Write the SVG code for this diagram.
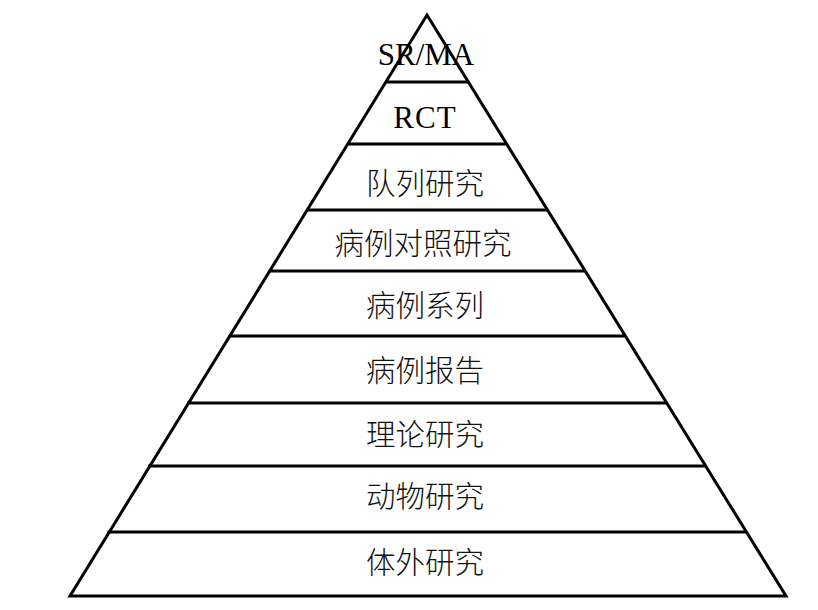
<svg xmlns="http://www.w3.org/2000/svg" width="818" height="610" viewBox="0 0 818 610">
<style>
.ln{stroke:#000;stroke-width:3;fill:none;stroke-linejoin:miter}
.en{font-family:"Liberation Serif","Times New Roman",serif;font-size:31px;fill:#000;text-anchor:middle}
.cn{font-family:"Liberation Serif","Noto Sans CJK SC",sans-serif;font-size:29.5px;font-weight:300;fill:#111;text-anchor:middle}
</style>
<rect width="818" height="610" fill="#fff"/>
<g id="connectors">
<polygon class="ln" points="427,15 786,596 70,596"/>
<line class="ln" x1="385.6" y1="82" x2="468.4" y2="82"/>
<line class="ln" x1="347.3" y1="144" x2="506.7" y2="144"/>
<line class="ln" x1="306.5" y1="210" x2="547.5" y2="210"/>
<line class="ln" x1="268.8" y1="271" x2="585.2" y2="271"/>
<line class="ln" x1="228.7" y1="336" x2="625.3" y2="336"/>
<line class="ln" x1="187.1" y1="403" x2="666.9" y2="403"/>
<line class="ln" x1="148.1" y1="466" x2="705.9" y2="466"/>
<line class="ln" x1="107.4" y1="532" x2="746.6" y2="532"/>
</g>
<g id="n1"><text class="en" x="426" y="65">SR/MA</text></g>
<g id="n2"><text class="en" x="425" y="128" letter-spacing="1">RCT</text></g>
<g id="n3"><text class="cn" x="425" y="194">队列研究</text></g>
<g id="n4"><text class="cn" x="423" y="254">病例对照研究</text></g>
<g id="n5"><text class="cn" x="425" y="316">病例系列</text></g>
<g id="n6"><text class="cn" x="425" y="381">病例报告</text></g>
<g id="n7"><text class="cn" x="425" y="445">理论研究</text></g>
<g id="n8"><text class="cn" x="425" y="507">动物研究</text></g>
<g id="n9"><text class="cn" x="425" y="573">体外研究</text></g>
</svg>
